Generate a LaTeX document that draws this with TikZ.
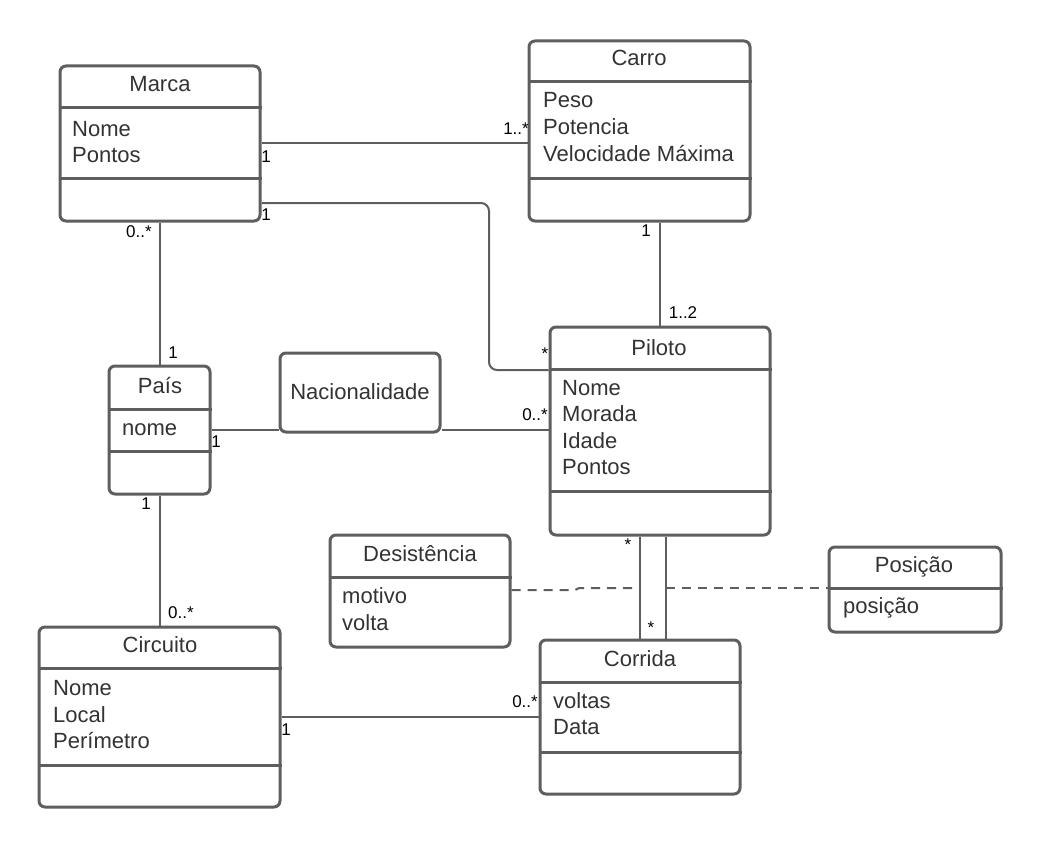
\documentclass[tikz,border=0pt]{standalone}
\usepackage{fontspec}
\setmainfont{Liberation Sans}
\definecolor{edge}{HTML}{5E5E5E}
\definecolor{ink}{HTML}{333333}
\begin{document}
\begin{tikzpicture}[x=1pt,y=-1pt,
  classbox/.style={draw=edge, line width=3pt, rounded corners=6pt, inner sep=0pt, fill=white},
  divider/.style={draw=edge, line width=3pt},
  title/.style={anchor=base, inner sep=0pt, text=ink, font=\fontsize{22}{26}\selectfont},
  attr/.style={anchor=base west, inner sep=0pt, text=ink, font=\fontsize{22}{26}\selectfont},
  assoc/.style={draw=edge, line width=2pt},
  assocdash/.style={draw=edge, line width=2pt, dash pattern=on 9pt off 7pt},
  mult/.style={inner sep=0pt, text=black, font=\fontsize{17}{20}\selectfont}]
\useasboundingbox (0,0) rectangle (1040,848);

% ---------- bend points of the connectors ----------
\coordinate (mp1) at (489,203);
\coordinate (mp2) at (489,370);
\coordinate (dj1) at (575,590);
\coordinate (dj2) at (579,588);
\coordinate (dr) at (640,588);
\coordinate (pl) at (666,588);

% ---------- class boxes ----------
\node[classbox, minimum width=200pt, minimum height=155pt] (marca) at (160,143.5) {};
\node[classbox, minimum width=221pt, minimum height=180pt] (carro) at (639.5,131) {};
\node[classbox, minimum width=220pt, minimum height=208pt] (piloto) at (660,431) {};
\node[classbox, minimum width=101pt, minimum height=128pt] (pais) at (159.5,430) {};
\node[classbox, minimum width=160pt, minimum height=79pt] (nac) at (360,392.5) {};
\node[classbox, minimum width=241pt, minimum height=180pt] (circuito) at (159.5,717) {};
\node[classbox, minimum width=200pt, minimum height=154pt] (corrida) at (640,717) {};
\node[classbox, minimum width=180pt, minimum height=112pt] (desist) at (420,591) {};
\node[classbox, minimum width=172pt, minimum height=85pt] (posicao) at (915,589.5) {};

% ---------- associations ----------
\draw[assoc] (marca.east |- 0,143) -- (carro.west |- 0,143);
\draw[assoc, rounded corners=8pt] (marca.east |- mp1) -- (mp1) -- (mp2) -- (piloto.west |- mp2);
\draw[assoc] (marca.south -| 160,0) -- (pais.north -| 160,0);
\draw[assoc] (carro.south -| 660,0) -- (piloto.north -| 660,0);
\draw[assoc] (pais.east |- 0,430) -- (nac.west |- 0,430);
\draw[assoc] (nac.east |- 0,430) -- (piloto.west |- 0,430);
\draw[assoc] (pais.south -| 160,0) -- (circuito.north -| 160,0);
\draw[assoc] (circuito.east |- 0,717) -- (corrida.west |- 0,717);
\draw[assoc] (piloto.south -| 640,0) -- (corrida.north -| 640,0);
\draw[assoc] (piloto.south -| 666,0) -- (corrida.north -| 666,0);
\draw[assocdash] (desist.east |- dj1) -- (dj1) -- (dj2) -- (dr);
\draw[assocdash] (pl) -- (posicao.west |- pl);

% ---------- compartment dividers ----------
\draw[divider] (marca.west |- 0,108) -- (marca.east |- 0,108);
\draw[divider] (marca.west |- 0,178) -- (marca.east |- 0,178);
\draw[divider] (carro.west |- 0,82) -- (carro.east |- 0,82);
\draw[divider] (carro.west |- 0,178) -- (carro.east |- 0,178);
\draw[divider] (piloto.west |- 0,369) -- (piloto.east |- 0,369);
\draw[divider] (piloto.west |- 0,491) -- (piloto.east |- 0,491);
\draw[divider] (pais.west |- 0,409) -- (pais.east |- 0,409);
\draw[divider] (pais.west |- 0,451) -- (pais.east |- 0,451);
\draw[divider] (circuito.west |- 0,668) -- (circuito.east |- 0,668);
\draw[divider] (circuito.west |- 0,765) -- (circuito.east |- 0,765);
\draw[divider] (corrida.west |- 0,682) -- (corrida.east |- 0,682);
\draw[divider] (corrida.west |- 0,752) -- (corrida.east |- 0,752);
\draw[divider] (desist.west |- 0,577) -- (desist.east |- 0,577);
\draw[divider] (posicao.west |- 0,588) -- (posicao.east |- 0,588);

% ---------- titles ----------
\node[title] (tmarca) at (160,92) {Marca};
\node[title] (tcarro) at (639,66) {Carro};
\node[title] (tpiloto) at (659,355) {Piloto};
\node[title] (tpais) at (160,393) {País};
\node[title] (tnac) at (360,399) {Nacionalidade};
\node[title] (tcircuito) at (160,652) {Circuito};
\node[title] (tcorrida) at (640,666) {Corrida};
\node[title] (tdesist) at (420,561) {Desistência};
\node[title] (tposicao) at (914,572) {Posição};

% ---------- attributes ----------
\node[attr] (am1) at (72,136) {Nome};
\node[attr] (am2) at (72,162) {Pontos};
\node[attr] (ac1) at (543,108) {Peso};
\node[attr] (ac2) at (543,135) {Potencia};
\node[attr] (ac3) at (543,161) {Velocidade Máxima};
\node[attr] (ap1) at (562,395) {Nome};
\node[attr] (ap2) at (562,421) {Morada};
\node[attr] (ap3) at (562,448) {Idade};
\node[attr] (ap4) at (562,474) {Pontos};
\node[attr] (apa1) at (122,435) {nome};
\node[attr] (aci1) at (53,695) {Nome};
\node[attr] (aci2) at (53,722) {Local};
\node[attr] (aci3) at (53,748) {Perímetro};
\node[attr] (aco1) at (553,708) {voltas};
\node[attr] (aco2) at (553,734) {Data};
\node[attr] (ad1) at (342,603) {motivo};
\node[attr] (ad2) at (342,630) {volta};
\node[attr] (apo1) at (843,613) {posição};

% ---------- multiplicities ----------
\node[mult] (m1) at (266,157) {1};
\node[mult] (m2) at (516,129) {1..*};
\node[mult] (m3) at (266,215) {1};
\node[mult] (m4) at (545,354) {*};
\node[mult] (m5) at (139,232) {0..*};
\node[mult] (m6) at (173,353) {1};
\node[mult] (m7) at (646,231) {1};
\node[mult] (m8) at (683,313) {1..2};
\node[mult] (m9) at (216,442) {1};
\node[mult] (m10) at (535,415) {0..*};
\node[mult] (m11) at (146,504) {1};
\node[mult] (m12) at (181,613) {0..*};
\node[mult] (m13) at (628,545) {*};
\node[mult] (m14) at (651,628) {*};
\node[mult] (m15) at (286,730) {1};
\node[mult] (m16) at (525,702) {0..*};
\end{tikzpicture}
\end{document}
